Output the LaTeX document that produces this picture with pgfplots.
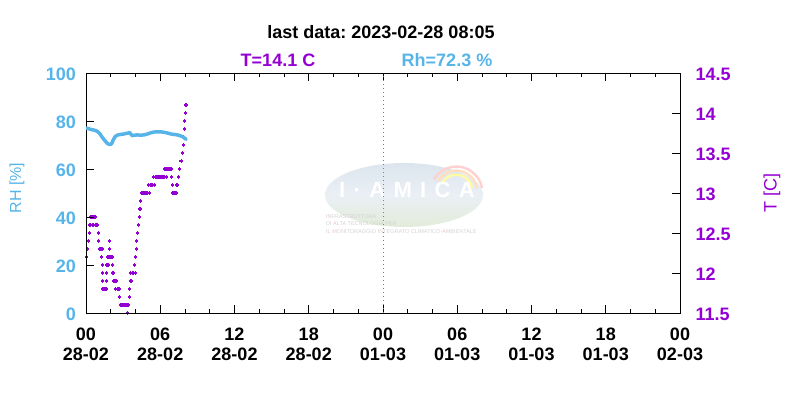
\documentclass[border=0pt]{standalone}
\usepackage{fontspec}
\setmainfont{Liberation Sans}
\newfontfamily\logofont[LetterSpace=38]{Liberation Sans}
\usepackage{pgfplots}
\pgfplotsset{compat=1.18}
\frenchspacing
\definecolor{tcol}{HTML}{9400D3}
\definecolor{rhcol}{HTML}{56B4E9}
\definecolor{logotop}{HTML}{DCE5EE}
\definecolor{logobot}{HTML}{E2ECDA}
\definecolor{logotxt}{HTML}{D2D2D2}
\definecolor{logored}{HTML}{EBC4C0}

\pgfplotstableread{
m T
3 12.2
6 12.3
11 12.4
16 12.5
17 12.6
22 12.6
24 12.7
29 12.7
34 12.6
36 12.7
41 12.7
46 12.7
47 12.6
51 12.6
56 12.6
59 12.5
62 12.4
64 12.3
68 12.3
73 12.3
75 12.2
78 12.3
79 12.1
80 12.0
81 11.9
82 11.8
87 11.8
92 11.8
97 11.8
98 11.9
100 12.0
102 12.1
104 12.2
107 12.1
109 12.2
112 12.3
113 12.4
116 12.2
121 12.2
126 12.2
128 12.1
131 12.0
133 11.9
138 11.9
143 11.9
145 11.8
149 11.9
153 11.8
158 11.8
161 11.7
164 11.8
166 11.6
171 11.6
176 11.6
181 11.6
186 11.6
191 11.6
195 11.6
200 11.6
202 11.5
206 11.6
210 11.7
212 11.8
215 11.9
217 12.0
221 11.9
224 12.0
229 12.0
234 12.1
238 12.0
241 12.2
243 12.3
246 12.4
251 12.5
255 12.6
258 12.7
262 12.8
264 12.9
268 13.0
273 13.0
278 13.0
283 13.0
288 13.0
292 13.0
297 13.0
302 13.1
307 13.0
312 13.1
317 13.1
321 13.1
326 13.2
331 13.1
336 13.2
341 13.2
346 13.2
351 13.2
355 13.2
360 13.2
365 13.2
370 13.2
375 13.2
380 13.2
383 13.3
388 13.3
391 13.2
395 13.3
400 13.3
405 13.3
410 13.3
414 13.3
416 13.2
418 13.1
420 13.0
424 13.0
429 13.0
434 13.0
438 13.0
440 13.1
444 13.1
448 13.2
454 13.3
461 13.4
467 13.5
471 13.6
474 13.7
476 13.8
479 13.9
482 14.0
485 14.1
}\tdata

\pgfplotstableread{
m RH
0 77.0
10 76.9
19 76.6
29 76.4
39 76.2
48 76.0
55 75.6
63 75.1
71 74.2
79 73.2
88 72.2
96 71.4
104 70.6
112 70.3
118 70.3
123 70.4
128 71.2
132 72.1
138 73.0
144 73.7
150 74.0
155 74.2
162 74.3
168 74.4
176 74.5
184 74.6
192 74.8
200 74.9
206 75.0
212 75.2
218 74.5
224 73.9
236 74.1
249 74.2
265 74.1
281 74.2
298 74.6
314 75.1
330 75.4
346 75.5
362 75.5
378 75.3
395 75.0
411 74.6
427 74.4
443 74.2
455 73.9
467 73.5
476 73.0
483 72.5
485 72.3
}\rhdata

\begin{document}
\begin{tikzpicture}
\path[use as bounding box] (0,0) rectangle (800pt,400pt);

% faint background logo
\shade[top color=logotop, bottom color=logobot, middle color=logotop!60!white] (404pt,205pt) ellipse (79pt and 32pt);
\draw[yellow!35!white, line width=2.5pt] (472pt,212pt) arc (10:150:16pt);
\draw[orange!25!white, line width=2.5pt] (477pt,212pt) arc (10:150:21pt);
\draw[red!18!white, line width=2.5pt] (482pt,212pt) arc (10:150:26pt);
\node[anchor=base, white, inner sep=0pt, font=\logofont\bfseries\fontsize{22}{22}\selectfont] at (407pt,203pt) {I·AMICA};
\node[anchor=base west, inner sep=0pt, logotxt, font=\fontsize{5.5}{6}\selectfont] at (326pt,182pt) {\textcolor{logored}{I}NFRASTRUTTURA};
\node[anchor=base west, inner sep=0pt, logotxt, font=\fontsize{5.5}{6}\selectfont] at (326pt,174.5pt) {DI \textcolor{logored}{A}LTA TECNOLOGIA PER};
\node[anchor=base west, inner sep=0pt, logotxt, font=\fontsize{5.5}{6}\selectfont] at (326pt,167pt) {IL \textcolor{logored}{M}ONITORAGGIO \textcolor{logored}{I}NTEGRATO \textcolor{logored}{C}LIMATICO-\textcolor{logored}{A}MBIENTALE};

% temperature axis (right)
\begin{axis}[
  at={(86pt,87pt)}, anchor=south west, scale only axis,
  width=594pt, height=240pt,
  xmin=0, xmax=2880, ymin=11.5, ymax=14.5,
  axis x line=none, axis y line*=right,
  tick align=inside,
  ytick={11.5,12,12.5,13,13.5,14,14.5},
  major tick length=8pt,
  axis line style={line width=1pt, black},
  every tick/.style={black, line width=0.9pt},
  /pgf/number format/assume math mode=true,
  yticklabel style={font=\bfseries\fontsize{18}{20}\selectfont, text=tcol, anchor=west, inner sep=0pt, xshift=15.5pt, yshift=-1.5pt},
  clip=false,
]
\addplot[only marks, mark=+, mark size=1.6pt, tcol, mark options={line width=1.1pt}] table[x=m, y=T] {\tdata};
\end{axis}

% RH axis (left) with box
\begin{axis}[
  at={(86pt,87pt)}, anchor=south west, scale only axis,
  width=594pt, height=240pt,
  xmin=0, xmax=2880, ymin=0, ymax=100,
  xtick={0,360,720,1080,1440,1800,2160,2520,2880},
  minor x tick num=2,
  xticklabels={{00\\28-02},{06\\28-02},{12\\28-02},{18\\28-02},{00\\01-03},{06\\01-03},{12\\01-03},{18\\01-03},{00\\02-03}},
  ytick={0,20,40,60,80,100}, ytick pos=left,
  tick align=inside,
  major tick length=8pt, minor tick length=4pt,
  axis line style={line width=1pt, black},
  every tick/.style={black, line width=0.9pt},
  /pgf/number format/assume math mode=true,
  xticklabel style={font=\bfseries\fontsize{18}{20}\selectfont, align=center, anchor=north, inner sep=0pt, yshift=-15pt, text=black},
  yticklabel style={font=\bfseries\fontsize{18}{20}\selectfont, text=rhcol, anchor=east, inner sep=0pt, xshift=-10pt, yshift=-1.5pt},
]
\addplot[gray, line width=0.8pt, dash pattern=on 0.8pt off 3.2pt] coordinates {(1440,0) (1440,100)};
\addplot[rhcol, line width=3.5pt, line join=round, line cap=round] table[x=m, y=RH] {\rhdata};
\end{axis}

% titles and labels
\node[anchor=base, inner sep=0pt, font=\bfseries\fontsize{18}{20}\selectfont] at (381pt,361pt) {last data: 2023-02-28 08:05};
\node[anchor=base, inner sep=0pt, text=tcol, font=\bfseries\fontsize{18}{20}\selectfont] at (278pt,334pt) {T=14.1 C};
\node[anchor=base, inner sep=0pt, text=rhcol, font=\bfseries\fontsize{18}{20}\selectfont] at (447pt,334pt) {Rh=72.3 \%};
\node[rotate=90, inner sep=0pt, text=rhcol, font=\fontsize{16}{18}\selectfont] at (17pt,212pt) {RH [\%]};
\node[rotate=90, inner sep=0pt, text=tcol, font=\fontsize{18}{20}\selectfont] at (772pt,207pt) {T [C]};
\end{tikzpicture}
\end{document}
